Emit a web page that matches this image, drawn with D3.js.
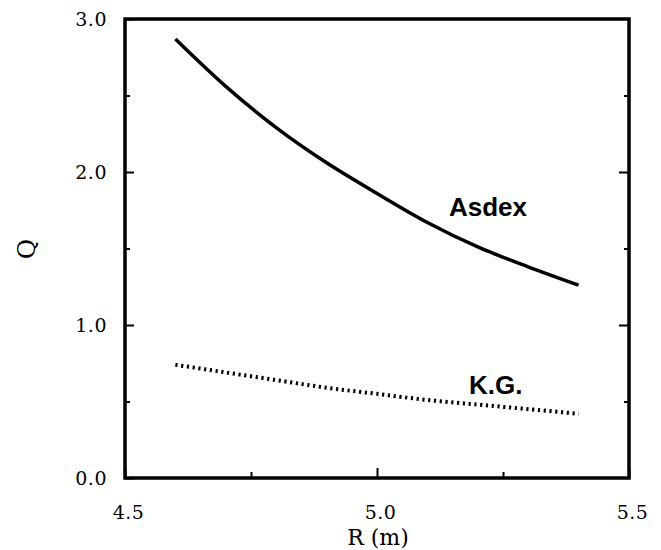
<!DOCTYPE html>
<html>
<head>
<meta charset="utf-8">
<script src="https://cdn.jsdelivr.net/npm/d3@7"></script>
<style>
  html, body { margin: 0; padding: 0; background: #fff; }
  svg { display: block; }
</style>
</head>
<body>
<svg id="chart" width="661" height="550"></svg>
<script>
// ---- data ----
const rValues = [4.6, 4.7, 4.8, 4.9, 5.0, 5.1, 5.2, 5.3, 5.4];
const asdexQ  = [2.87, 2.56, 2.29, 2.06, 1.86, 1.67, 1.51, 1.38, 1.26];
const kgQ     = [0.74, 0.69, 0.64, 0.59, 0.55, 0.51, 0.48, 0.45, 0.42];
const xMajorTicks = [4.5, 5.0, 5.5];
const xMinorTicks = [4.75, 5.25];
const yMajorTicks = [0.0, 1.0, 2.0, 3.0];
const yMinorTicks = [0.5, 1.5, 2.5];
const seriesLabels = ["Asdex", "K.G."];
const xTitle = "R (m)";
const yTitle = "Q";

// ---- layout ----
const plotLeft = 125, plotRight = 629, plotTop = 19, plotBottom = 478;
const svg = d3.select("#chart");
const x = d3.scaleLinear().domain([4.5, 5.5]).range([plotLeft, plotRight]);
const y = d3.scaleLinear().domain([0, 3]).range([plotBottom, plotTop]);

const serif = "'DejaVu Serif', serif";
const sans = "'Liberation Sans', Arial, sans-serif";

function styleAxis(g) {
  g.select(".domain").remove();
  g.selectAll(".tick line").attr("stroke", "#000").attr("stroke-width", 2);
  g.selectAll(".tick text")
    .attr("fill", "#000")
    .style("font-family", serif)
    .style("font-size", "19px")
    .style("letter-spacing", "0.5px");
}

// bottom axis: labels + major ticks
svg.append("g").attr("transform", `translate(0,${plotBottom})`)
  .call(d3.axisBottom(x).tickValues(xMajorTicks).tickFormat(d3.format(".1f"))
    .tickSizeInner(-10).tickSizeOuter(0).tickPadding(28))
  .call(styleAxis)
  .call(g => g.selectAll(".tick text").attr("dx", 3));
svg.append("g").attr("transform", `translate(0,${plotBottom})`)
  .call(d3.axisBottom(x).tickValues(xMinorTicks).tickFormat("").tickSizeInner(-6).tickSizeOuter(0))
  .call(styleAxis);

// left axis
svg.append("g").attr("transform", `translate(${plotLeft},0)`)
  .call(d3.axisLeft(y).tickValues(yMajorTicks).tickFormat(d3.format(".1f"))
    .tickSizeInner(-9).tickSizeOuter(0).tickPadding(18))
  .call(styleAxis);
svg.append("g").attr("transform", `translate(${plotLeft},0)`)
  .call(d3.axisLeft(y).tickValues(yMinorTicks).tickFormat("").tickSizeInner(-5).tickSizeOuter(0))
  .call(styleAxis);

// right axis (ticks only)
svg.append("g").attr("transform", `translate(${plotRight},0)`)
  .call(d3.axisRight(y).tickValues(yMajorTicks.slice(1, 3)).tickFormat("").tickSizeInner(-10).tickSizeOuter(0))
  .call(styleAxis);
svg.append("g").attr("transform", `translate(${plotRight},0)`)
  .call(d3.axisRight(y).tickValues(yMinorTicks).tickFormat("").tickSizeInner(-5).tickSizeOuter(0))
  .call(styleAxis);

// frame
svg.append("rect")
  .attr("x", plotLeft).attr("y", plotTop)
  .attr("width", plotRight - plotLeft).attr("height", plotBottom - plotTop)
  .attr("fill", "none").attr("stroke", "#000").attr("stroke-width", 3.5);

// lines
const line = (vals) => d3.line()
  .x((d, i) => x(rValues[i]))
  .y(d => y(d))
  .curve(d3.curveMonotoneX)(vals);

svg.append("path")
  .attr("d", line(asdexQ))
  .attr("fill", "none").attr("stroke", "#000")
  .attr("stroke-width", 3.5);

svg.append("path")
  .attr("d", line(kgQ))
  .attr("fill", "none").attr("stroke", "#000")
  .attr("stroke-width", 4)
  .attr("stroke-dasharray", "2.2,3.6");

// series labels
svg.append("text")
  .attr("x", 449).attr("y", 216)
  .text(seriesLabels[0])
  .style("font-family", sans).style("font-weight", "bold").style("font-size", "26px");
svg.append("text")
  .attr("x", 469).attr("y", 394)
  .text(seriesLabels[1])
  .style("font-family", sans).style("font-weight", "bold").style("font-size", "26px");

// axis titles
svg.append("text")
  .attr("x", (plotLeft + plotRight) / 2 + 1).attr("y", 545)
  .attr("text-anchor", "middle")
  .text(xTitle)
  .style("font-family", serif).style("font-size", "22px");
svg.append("text")
  .attr("transform", `translate(35,249) rotate(-90)`)
  .attr("text-anchor", "middle")
  .text(yTitle)
  .style("font-family", serif).style("font-size", "25px");
</script>
</body>
</html>
